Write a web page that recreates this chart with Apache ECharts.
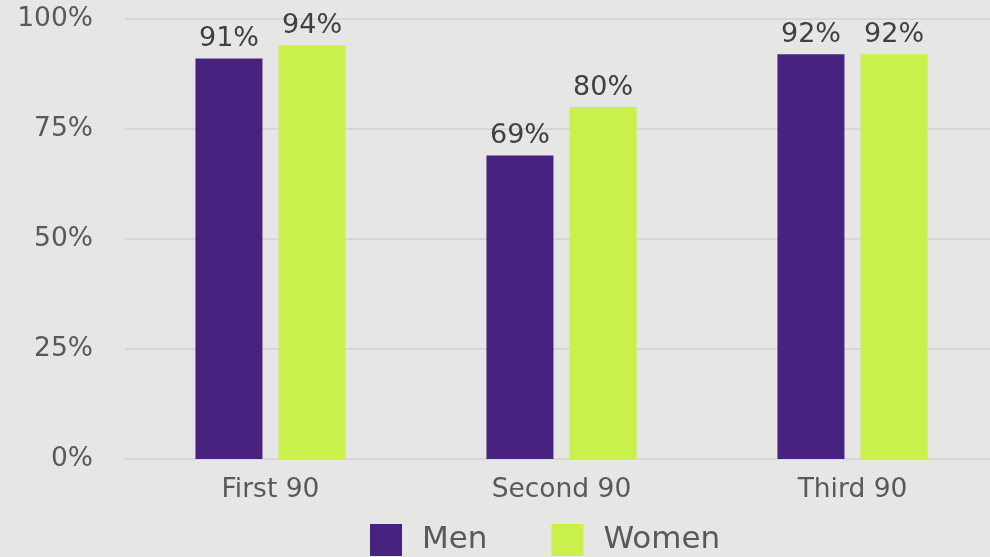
<!DOCTYPE html>
<html><head><meta charset="utf-8">
<script src="https://cdn.jsdelivr.net/npm/echarts@6/dist/echarts.min.js"></script>
<style>html,body{margin:0;padding:0;background:#e6e6e5;overflow:hidden;}#c{width:998px;height:557px;}</style>
</head><body><div id="c"></div>
<script>
const categories = ['First 90', 'Second 90', 'Third 90'];
const men = [91, 69, 92];
const women = [94, 80, 92];
const yTicks = [0, 25, 50, 75, 100];

const FONT = '"DejaVu Sans", Verdana, sans-serif';
const chart = echarts.init(document.getElementById('c'));
chart.setOption({
  backgroundColor: '#e6e6e5',
  animation: false,
  textStyle: { fontFamily: FONT },
  grid: { left: 125, right: 0, top: 19, height: 440 },
  legend: {
    left: 370, top: 524, padding: 0,
    itemWidth: 32, itemHeight: 32, itemGap: 64,
    icon: 'rect',
    textStyle: { fontFamily: FONT, fontSize: 31, color: '#595959', padding: [2, 0, 0, 15] },
    data: ['Men', 'Women']
  },
  xAxis: {
    type: 'category', data: categories,
    axisLine: { show: true, lineStyle: { color: '#d6d6d6', width: 2 } },
    axisTick: { show: false },
    axisLabel: { fontFamily: FONT, fontSize: 26.5, color: '#595959', margin: 18 }
  },
  yAxis: {
    type: 'value', min: yTicks[0], max: yTicks[yTicks.length - 1], interval: 25,
    axisLine: { show: false }, axisTick: { show: false },
    splitLine: { lineStyle: { color: '#d6d6d6', width: 2 } },
    axisLabel: { fontFamily: FONT, fontSize: 26.5, color: '#595959', margin: 32, formatter: v => v + '%' }
  },
  series: [
    { name: 'Men', type: 'bar', data: men, barWidth: 67, barGap: '24%',
      itemStyle: { color: '#47237f' },
      label: { show: true, position: 'top', distance: 6, fontFamily: FONT, fontSize: 27, color: '#404040', formatter: p => p.value + '%' } },
    { name: 'Women', type: 'bar', data: women, barWidth: 67, barGap: '24%',
      itemStyle: { color: '#c9f04b' },
      label: { show: true, position: 'top', distance: 6, fontFamily: FONT, fontSize: 27, color: '#404040', formatter: p => p.value + '%' } }
  ]
});
</script></body></html>
